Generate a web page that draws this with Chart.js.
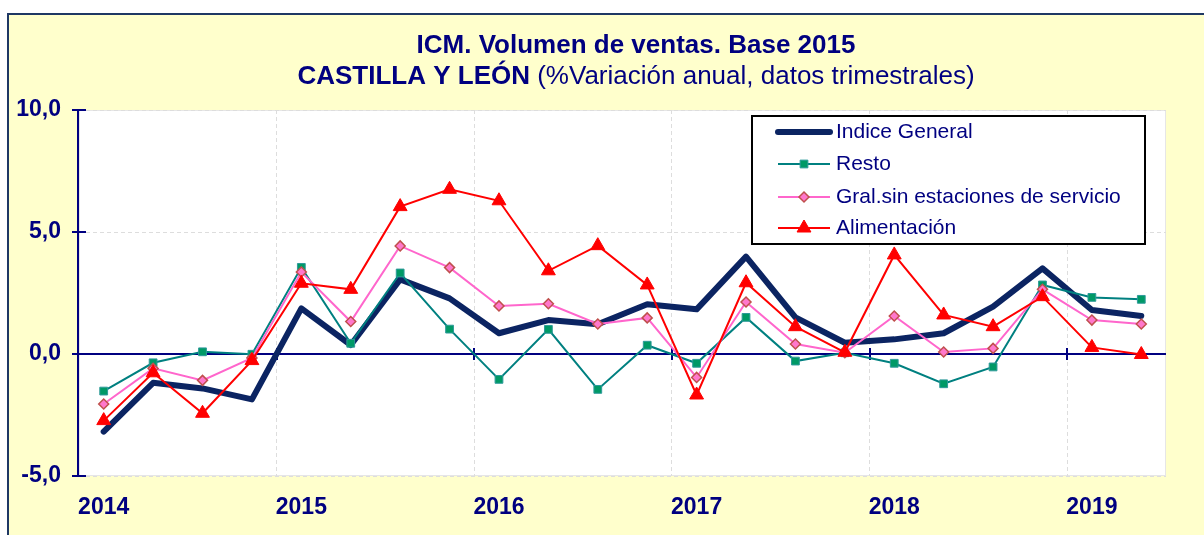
<!DOCTYPE html>
<html><head><meta charset="utf-8">
<script src="https://cdn.jsdelivr.net/npm/chart.js@4.4.1/dist/chart.umd.min.js"></script>
<style>html,body{margin:0;padding:0;background:#fff;overflow:hidden}</style>
</head><body>
<canvas id="c" width="1204" height="535"></canvas>
<script>
const categories = ['2014 T1','2014 T2','2014 T3','2014 T4','2015 T1','2015 T2','2015 T3','2015 T4','2016 T1','2016 T2','2016 T3','2016 T4','2017 T1','2017 T2','2017 T3','2017 T4','2018 T1','2018 T2','2018 T3','2018 T4','2019 T1','2019 T2'];
const xTickLabels = ['2014','','','','2015','','','','2016','','','','2017','','','','2018','','','','2019',''];
const indiceGeneral = [-3.18,-1.18,-1.41,-1.86,1.87,0.37,3.06,2.28,0.85,1.39,1.22,2.04,1.83,3.99,1.50,0.46,0.60,0.85,1.94,3.51,1.80,1.56];
const resto = [-1.52,-0.36,0.09,-0.01,3.55,0.44,3.32,1.02,-1.04,1.01,-1.45,0.36,-0.38,1.50,-0.29,0.05,-0.38,-1.22,-0.53,2.83,2.32,2.24];
const gralSinEESS = [-2.05,-0.59,-1.08,-0.16,3.36,1.33,4.43,3.54,1.97,2.06,1.23,1.48,-0.96,2.13,0.41,0.05,1.56,0.08,0.23,2.65,1.39,1.23];
const alimentacion = [-2.73,-0.77,-2.43,-0.27,2.90,2.65,6.04,6.75,6.28,3.41,4.44,2.83,-1.68,2.92,1.12,0.07,4.06,1.60,1.12,2.35,0.27,-0.02];
const seriesNames = ['Indice General','Resto','Gral.sin estaciones de servicio','Alimentación'];
const titleLine1 = 'ICM. Volumen de ventas. Base 2015';
const titleLine2Bold = 'CASTILLA Y LEÓN';
const titleLine2Rest = ' (%Variación anual, datos trimestrales)';

const NAVY = '#000080';
const FONT = "'Liberation Sans', Arial, sans-serif";

function drawMarker(ctx, style, x, y, r, fill, stroke, bw) {
  ctx.save();
  ctx.fillStyle = fill; ctx.strokeStyle = stroke; ctx.lineWidth = bw;
  ctx.beginPath();
  if (style === 'rect') { const s = Math.SQRT1_2 * r; ctx.rect(x - s, y - s, 2 * s, 2 * s); }
  else if (style === 'rectRot') { ctx.moveTo(x, y - r); ctx.lineTo(x + r, y); ctx.lineTo(x, y + r); ctx.lineTo(x - r, y); ctx.closePath(); }
  else if (style === 'triangle') { ctx.moveTo(x, y - r); ctx.lineTo(x + r * 0.866, y + r / 2); ctx.lineTo(x - r * 0.866, y + r / 2); ctx.closePath(); }
  ctx.fill(); if (bw) ctx.stroke();
  ctx.restore();
}

const decor = {
  id: 'decor',
  beforeDraw(chart) {
    const {ctx, chartArea: a, width: W, height: H} = chart;
    ctx.save();
    ctx.fillStyle = '#fff'; ctx.fillRect(0, 0, W, H);
    ctx.fillStyle = '#FFFFCC'; ctx.fillRect(9, 15, W - 9, H - 15);
    ctx.strokeStyle = '#1F3864'; ctx.lineWidth = 2;
    ctx.beginPath(); ctx.moveTo(8, H); ctx.lineTo(8, 14); ctx.lineTo(W, 14); ctx.stroke();
    ctx.fillStyle = '#fff'; ctx.fillRect(a.left, a.top, a.right - a.left, a.bottom - a.top);
    ctx.strokeStyle = '#E6E6E6'; ctx.lineWidth = 1;
    ctx.strokeRect(a.left + 0.5, a.top + 0.5, a.right - a.left - 1, a.bottom - a.top - 1);
    // title
    const cx = 636;
    ctx.fillStyle = NAVY; ctx.textBaseline = 'alphabetic'; ctx.textAlign = 'left';
    ctx.font = 'bold 26px ' + FONT;
    const w1 = ctx.measureText(titleLine1).width;
    ctx.fillText(titleLine1, cx - w1 / 2, 53);
    const wb = ctx.measureText(titleLine2Bold).width;
    ctx.font = '26px ' + FONT;
    const wr = ctx.measureText(titleLine2Rest).width;
    const x0 = cx - (wb + wr) / 2;
    ctx.font = 'bold 26px ' + FONT; ctx.fillText(titleLine2Bold, x0, 84);
    ctx.font = '26px ' + FONT; ctx.fillText(titleLine2Rest, x0 + wb, 84);
    ctx.restore();
  },
  beforeDatasetsDraw(chart) {
    const {ctx, chartArea: a, scales: {x, y}} = chart;
    ctx.save();
    ctx.strokeStyle = NAVY; ctx.lineWidth = 2;
    const y0 = Math.round(y.getPixelForValue(0));
    ctx.beginPath(); ctx.moveTo(a.left, y0); ctx.lineTo(a.right, y0); ctx.stroke();
    // y axis line and crossing ticks
    ctx.beginPath(); ctx.moveTo(a.left - 1, a.top); ctx.lineTo(a.left - 1, a.bottom + 1); ctx.stroke();
    y.ticks.forEach((t, i) => {
      const py = Math.round(y.getPixelForTick(i));
      ctx.beginPath(); ctx.moveTo(a.left - 7, py); ctx.lineTo(a.left + 7, py); ctx.stroke();
    });
    // x ticks on zero line at year boundaries
    for (let i = 4; i < categories.length; i += 4) {
      const px = Math.round((x.getPixelForTick(i - 1) + x.getPixelForTick(i)) / 2);
      ctx.beginPath(); ctx.moveTo(px, y0 - 6); ctx.lineTo(px, y0 + 6); ctx.stroke();
    }
    ctx.restore();
  },
  afterDraw(chart) {
    const ctx = chart.ctx;
    ctx.save();
    ctx.fillStyle = '#fff'; ctx.strokeStyle = '#000'; ctx.lineWidth = 2;
    ctx.fillRect(752, 116, 393, 128); ctx.strokeRect(752, 116, 393, 128);
    const rows = [132, 164, 197, 228];
    chart.data.datasets.forEach((ds, i) => {
      const ry = rows[i];
      ctx.strokeStyle = ds.borderColor; ctx.lineWidth = ds.borderWidth; ctx.lineCap = ds.borderCapStyle || 'butt';
      ctx.beginPath(); ctx.moveTo(778, ry); ctx.lineTo(830, ry); ctx.stroke();
      if (ds.pointRadius > 0) drawMarker(ctx, ds.pointStyle, 804, ry, ds.pointRadius, ds.pointBackgroundColor, ds.pointBorderColor, ds.pointBorderWidth);
      ctx.fillStyle = NAVY; ctx.font = '21px ' + FONT; ctx.textBaseline = 'middle'; ctx.textAlign = 'left';
      ctx.fillText(ds.label, 836, ry);
    });
    ctx.restore();
  }
};

new Chart(document.getElementById('c'), {
  type: 'line',
  data: {
    labels: categories,
    datasets: [
      {label: seriesNames[0], data: indiceGeneral, borderColor: '#0B2462', borderWidth: 6, pointRadius: 0, borderJoinStyle: 'round', borderCapStyle: 'round', order: 4, tension: 0},
      {label: seriesNames[1], data: resto, borderColor: '#008080', borderWidth: 2, pointStyle: 'rect', pointRadius: 5.5, pointBackgroundColor: '#009966', pointBorderColor: '#2E9A9A', pointBorderWidth: 1, order: 3, tension: 0},
      {label: seriesNames[2], data: gralSinEESS, borderColor: '#FF66CC', borderWidth: 2, pointStyle: 'rectRot', pointRadius: 5, pointBackgroundColor: '#FF77CC', pointBorderColor: '#C0504D', pointBorderWidth: 1.5, order: 2, tension: 0},
      {label: seriesNames[3], data: alimentacion, borderColor: '#FF0000', borderWidth: 2, pointStyle: 'triangle', pointRadius: 8, pointBackgroundColor: '#FF0000', pointBorderColor: '#FF0000', pointBorderWidth: 1, order: 1, tension: 0}
    ]
  },
  options: {
    responsive: false, animation: false, devicePixelRatio: 1,
    layout: {padding: {top: 110, right: 38, left: 0, bottom: 0}},
    plugins: {legend: {display: false}, title: {display: false}, tooltip: {enabled: false}},
    scales: {
      x: {
        offset: true,
        grid: {offset: true, drawTicks: false, color: c => (c.index % 4 === 0 && c.index > 0 && c.index < categories.length) ? '#DDDDDD' : 'rgba(0,0,0,0)', lineWidth: 1},
        border: {display: false, dash: [4, 3]},
        ticks: {autoSkip: false, maxRotation: 0, padding: 18, color: NAVY, font: {family: FONT, size: 23, weight: 'bold'}, callback: (v, i) => xTickLabels[i]},
        afterFit: s => { s.height = 59; }
      },
      y: {
        min: -5, max: 10,
        grid: {drawTicks: false, color: c => (c.tick && c.tick.value === 0) ? 'rgba(0,0,0,0)' : '#DDDDDD', lineWidth: 1},
        border: {display: false, dash: [4, 3]},
        ticks: {stepSize: 5, padding: 18, color: NAVY, font: {family: FONT, size: 23, weight: 'bold'}, callback: v => v.toFixed(1).replace('.', ',')},
        afterFit: s => { s.width = 79; }
      }
    }
  },
  plugins: [decor]
});
</script>
</body></html>
